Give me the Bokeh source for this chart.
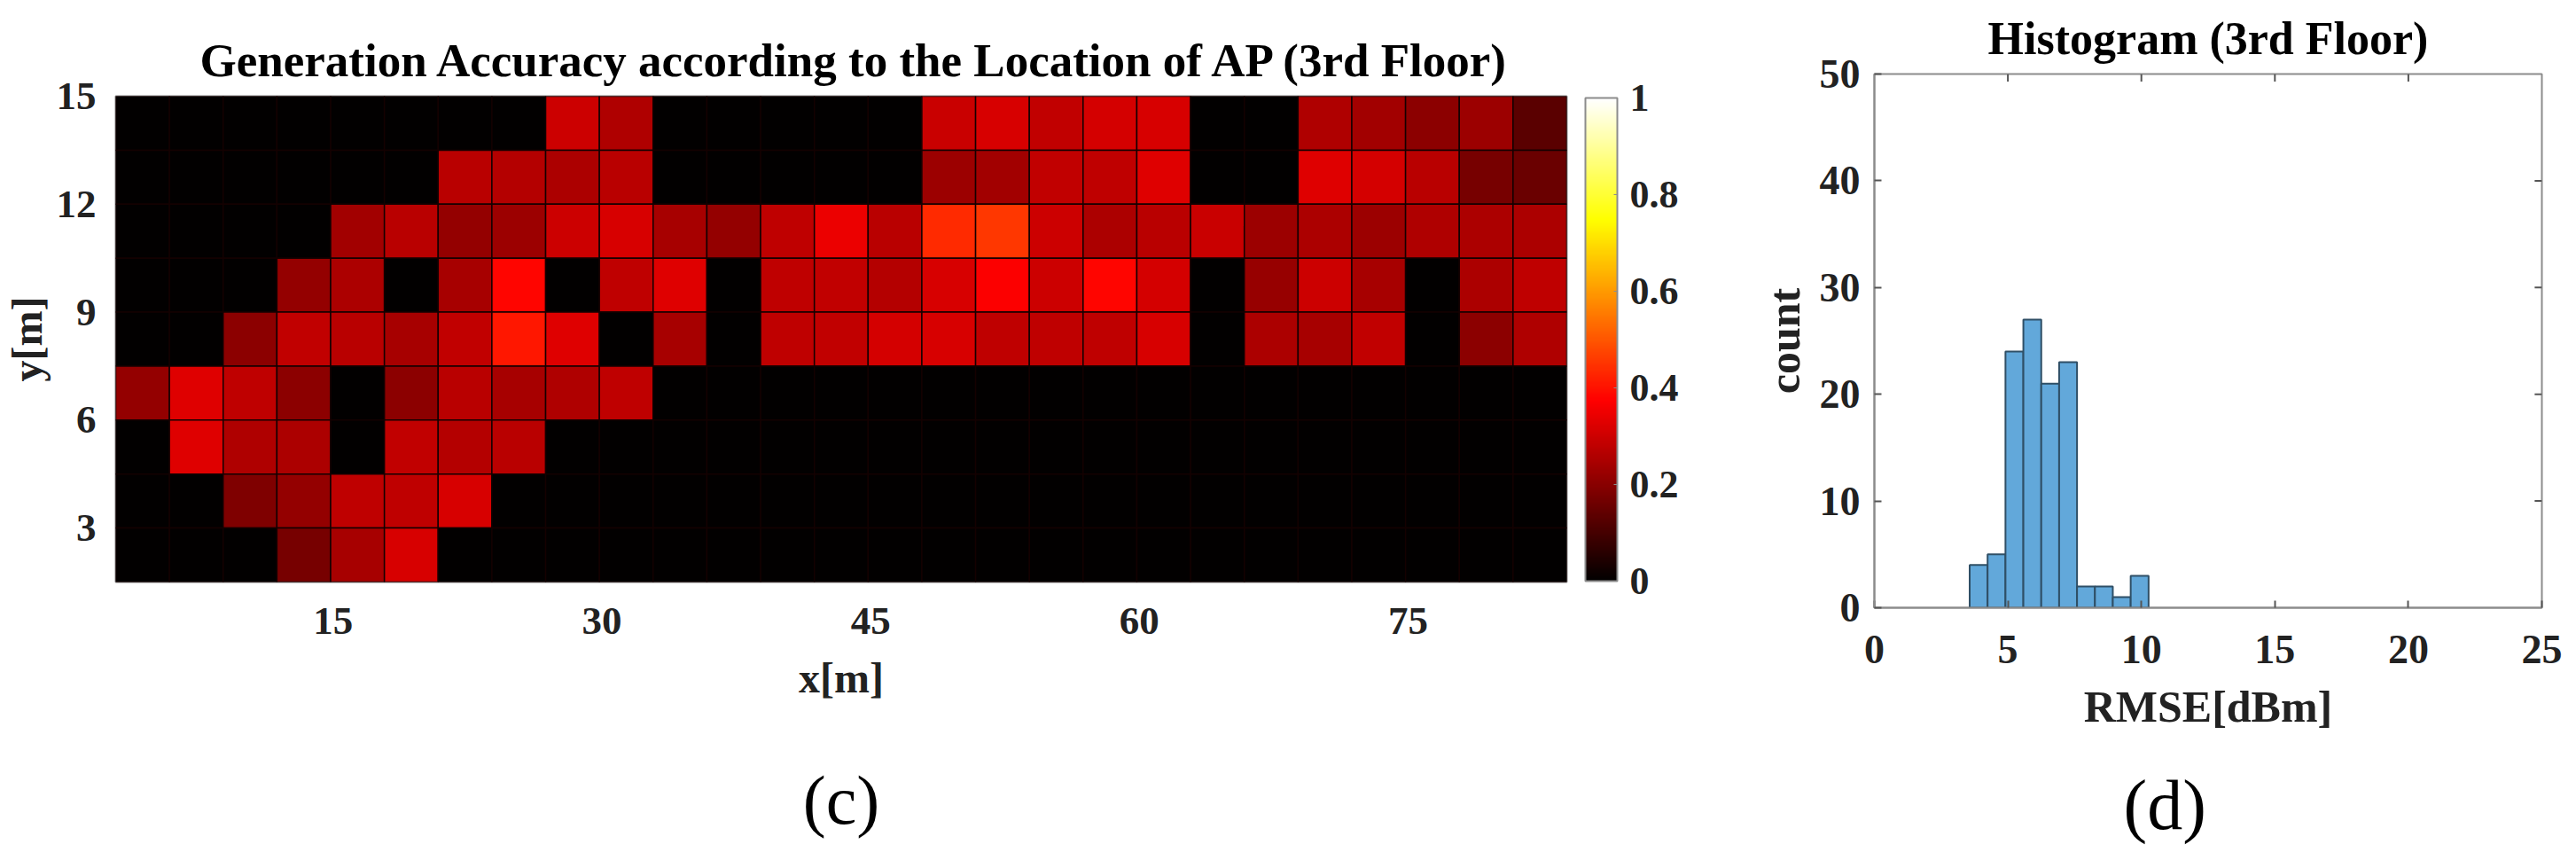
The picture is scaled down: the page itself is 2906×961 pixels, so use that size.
from bokeh.embed import file_html
from bokeh.layouts import column, row
from bokeh.models import ColorBar, ColumnDataSource, FixedTicker, LinearColorMapper, Range1d, Title
from bokeh.plotting import figure
from bokeh.resources import INLINE

FONT = "Liberation Serif"
TEXT = "#222222"
SPINE = "#8c8c8c"

# cell values, top row first, 27 columns
row_15 = [0, 0, 0, 0, 0, 0, 0, 0, .30, .255, 0, 0, 0, 0, 0, .295, .315, .285, .31, .315, 0, 0, .255, .235, .205, .23, .13]
row_13 = [0, 0, 0, 0, 0, 0, .27, .265, .25, .27, 0, 0, 0, 0, 0, .23, .235, .285, .28, .325, 0, 0, .325, .31, .27, .175, .155]
row_12 = [0, 0, 0, 0, .235, .27, .215, .23, .30, .315, .245, .215, .28, .345, .27, .434, .456, .30, .25, .27, .295, .23, .25, .23, .255, .25, .25]
row_10 = [0, 0, 0, .215, .25, 0, .245, .38, 0, .28, .325, 0, .28, .285, .265, .315, .37, .30, .38, .31, 0, .22, .30, .245, 0, .25, .28]
row_09 = [0, 0, .205, .285, .27, .245, .285, .41, .325, 0, .245, 0, .28, .285, .31, .315, .28, .28, .28, .315, 0, .25, .245, .285, 0, .205, .255]
row_07 = [.215, .325, .28, .205, 0, .205, .27, .245, .255, .28, 0, 0, 0, 0, 0, 0, 0, 0, 0, 0, 0, 0, 0, 0, 0, 0, 0]
row_06 = [0, .325, .255, .25, 0, .285, .265, .27, 0, 0, 0, 0, 0, 0, 0, 0, 0, 0, 0, 0, 0, 0, 0, 0, 0, 0, 0]
row_04 = [0, 0, .185, .215, .28, .28, .315, 0, 0, 0, 0, 0, 0, 0, 0, 0, 0, 0, 0, 0, 0, 0, 0, 0, 0, 0, 0]
row_03 = [0, 0, 0, .175, .245, .315, 0, 0, 0, 0, 0, 0, 0, 0, 0, 0, 0, 0, 0, 0, 0, 0, 0, 0, 0, 0, 0]
grid_rows = [row_15, row_13, row_12, row_10, row_09, row_07, row_06, row_04, row_03]

# cell centres along each axis in metres
x_centers = [4.36 + 3 * i for i in range(27)]
y_centers = [14.25, 12.75, 11.25, 9.75, 8.25, 6.75, 5.25, 3.75, 2.25]

x_ticks = [15, 30, 45, 60, 75]
y_ticks = [3, 6, 9, 12, 15]
bar_ticks = [0, 0.2, 0.4, 0.6, 0.8, 1]

# histogram
bin_edges = [3.57, 4.24, 4.91, 5.58, 6.25, 6.92, 7.59, 8.26, 8.93, 9.60, 10.27]
counts = [4, 5, 24, 27, 21, 23, 2, 2, 1, 3]
hist_x_ticks = [0, 5, 10, 15, 20, 25]
hist_y_ticks = [0, 10, 20, 30, 40, 50]


def hot_palette(n=256):
    colors = []
    for i in range(n):
        t = (i + 1) / n
        r = min(t / 0.375, 1)
        g = min(max(t - 0.375, 0) / 0.375, 1)
        b = max(t - 0.75, 0) / 0.25
        colors.append("#%02x%02x%02x" % (int(r * 255), int(g * 255), int(b * 255)))
    return colors


def style_axis(axis):
    axis.axis_label_text_font = FONT
    axis.axis_label_text_font_style = "bold"
    axis.axis_label_text_color = TEXT
    axis.major_label_text_font = FONT
    axis.major_label_text_font_style = "bold"
    axis.major_label_text_color = TEXT


mapper = LinearColorMapper(palette=hot_palette(), low=0, high=1)

xs, ys, vals = [], [], []
for y_c, cells in zip(y_centers, grid_rows):
    for x_c, v in zip(x_centers, cells):
        xs.append(x_c)
        ys.append(y_c)
        vals.append(v)
source = ColumnDataSource(data=dict(x=xs, y=ys, v=vals))

# heatmap
p = figure(output_backend="svg", toolbar_location=None,
           frame_width=1637, frame_height=548,
           min_border_left=123, min_border_right=214, min_border_top=108, min_border_bottom=0,
           x_range=Range1d(2.86, 83.86), y_range=Range1d(1.5, 15),
           x_axis_label="x[m]", y_axis_label="y[m]")
p.rect(x="x", y="y", width=3, height=1.5, source=source,
       fill_color={"field": "v", "transform": mapper},
       line_color="#140000", line_width=1.5)
p.grid.visible = False
p.outline_line_color = SPINE
p.outline_line_width = 2
p.title.text = "Generation Accuracy according to the Location of AP (3rd Floor)"
p.title.align = "left"
p.title.offset = 95
p.title.text_font = FONT
p.title.text_font_style = "bold"
p.title.text_font_size = "53px"
p.title.text_color = "black"
p.title.standoff = 23

style_axis(p.xaxis[0])
style_axis(p.yaxis[0])
p.xaxis[0].ticker = FixedTicker(ticks=x_ticks)
p.yaxis[0].ticker = FixedTicker(ticks=y_ticks)
p.xaxis.major_label_text_font_size = "45px"
p.yaxis.major_label_text_font_size = "45px"
p.xaxis.axis_label_text_font_size = "48px"
p.yaxis.axis_label_text_font_size = "48px"
p.axis.axis_line_color = None
p.axis.major_tick_line_color = None
p.axis.minor_tick_line_color = None
p.xaxis.major_label_standoff = 23
p.yaxis.major_label_standoff = 16
p.xaxis.axis_label_standoff = 20
p.yaxis.axis_label_standoff = 4

bar = ColorBar(color_mapper=mapper, ticker=FixedTicker(ticks=bar_ticks),
               width=36, height=545, location=(21, 1), margin=0, padding=0, label_standoff=14,
               major_label_text_font=FONT, major_label_text_font_style="bold",
               major_label_text_font_size="44px", major_label_text_color=TEXT,
               major_tick_line_color=SPINE, major_tick_in=4, major_tick_out=0,
               bar_line_color=SPINE, bar_line_width=2,
               border_line_color=None, background_fill_color=None)
p.add_layout(bar, "right")
p.add_layout(Title(text="(c)", align="center", standoff=126, text_font=FONT,
                   text_font_size="78px", text_font_style="normal", text_color="black"), "below")

# histogram
h = figure(output_backend="svg", toolbar_location=None,
           frame_width=753, frame_height=602,
           min_border_left=125, min_border_right=32, min_border_top=81, min_border_bottom=0,
           x_range=Range1d(0, 25), y_range=Range1d(0, 50),
           x_axis_label="RMSE[dBm]", y_axis_label="count")
h.quad(left=bin_edges[:-1], right=bin_edges[1:], top=counts, bottom=0,
       fill_color="#62A8DA", line_color="#2f4f66", line_width=2)
# inward ticks on the top and right spines
h.segment(x0=hist_x_ticks[1:-1], y0=[50] * 4, x1=hist_x_ticks[1:-1], y1=[49.3] * 4,
          line_color="#555555", line_width=2)
h.segment(x0=[25] * 4, y0=hist_y_ticks[1:-1], x1=[24.73] * 4, y1=hist_y_ticks[1:-1],
          line_color="#555555", line_width=2)
h.grid.visible = False
h.outline_line_color = SPINE
h.outline_line_width = 2
h.title.text = "Histogram (3rd Floor)"
h.title.align = "center"
h.title.text_font = FONT
h.title.text_font_style = "bold"
h.title.text_font_size = "52px"
h.title.text_color = "black"
h.title.standoff = 24

style_axis(h.xaxis[0])
style_axis(h.yaxis[0])
h.xaxis[0].ticker = FixedTicker(ticks=hist_x_ticks)
h.yaxis[0].ticker = FixedTicker(ticks=hist_y_ticks)
h.xaxis.major_label_text_font_size = "46px"
h.yaxis.major_label_text_font_size = "46px"
h.xaxis.axis_label_text_font_size = "50px"
h.yaxis.axis_label_text_font_size = "50px"
h.xaxis.major_label_standoff = 31
h.yaxis.major_label_standoff = 16
h.xaxis.axis_label_standoff = 18
h.yaxis.axis_label_standoff = 9
h.xaxis.major_tick_in = 8
h.xaxis.major_tick_out = 0
h.yaxis.major_tick_in = 8
h.yaxis.major_tick_out = 0
h.axis.minor_tick_line_color = None
h.axis.axis_line_color = SPINE
h.axis.axis_line_width = 2
h.axis.major_tick_line_color = "#555555"
h.axis.major_tick_line_width = 2
h.add_layout(Title(text="(d)", align="left", offset=281, standoff=69, text_font=FONT,
                   text_font_size="80px", text_font_style="normal", text_color="black"), "below")

layout = row(p, column(h), spacing=0)
open("out.html", "w").write(file_html(layout, INLINE))
